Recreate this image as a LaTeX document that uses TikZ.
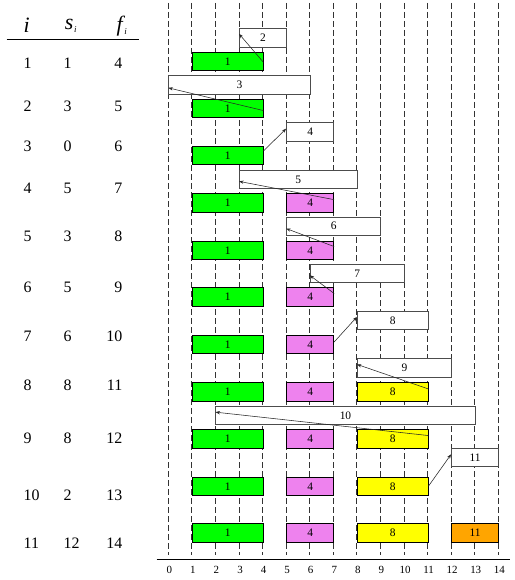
\documentclass[tikz,border=0pt]{standalone}
\usepackage{fontspec}
\setmainfont{Liberation Serif}
\usetikzlibrary{arrows.meta,calc}
\definecolor{cgreen}{RGB}{0,255,0}
\definecolor{cviolet}{RGB}{238,130,238}
\definecolor{cyellow}{RGB}{255,255,0}
\definecolor{corange}{RGB}{255,165,0}
\tikzset{
  gridline/.style={draw=black!80, line width=0.8bp, dash pattern=on 6bp off 3bp},
  ivbox/.style={draw=black, line width=0.8bp, minimum height=18.3bp, inner sep=0pt,
    anchor=north west, font=\fontsize{11.5}{11.5}\selectfont},
  waitbox/.style={ivbox, draw=black!70, fill=white},
  grnbox/.style={ivbox, fill=cgreen},
  viobox/.style={ivbox, fill=cviolet},
  yelbox/.style={ivbox, fill=cyellow},
  orabox/.style={ivbox, fill=corange},
  conn/.style={draw=black!85, line width=0.55bp, -{Stealth[length=4.5bp,width=3.2bp]}},
  tabtxt/.style={inner sep=0pt, font=\fontsize{16}{16}\selectfont},
  headtxt/.style={inner sep=0pt, font=\fontsize{22}{22}\selectfont\itshape},
  axtxt/.style={inner sep=0pt, font=\fontsize{11}{11}\selectfont},
}
\newcommand\ivb[6]{\node[#5, minimum width={(#3-#2)*23.5714bp}] (#1) at ({168.3+23.5714*#2},#4) {#6};}
\newcommand\tabrow[5]{%
  \node[tabtxt, anchor=west] (ti#1) at (23.5,#2) {#3};
  \node[tabtxt, anchor=west] (ts#1) at (63.5,#2) {#4};
  \node[tabtxt, anchor=east] (tf#1) at (122.5,#2) {#5};}
\begin{document}
\begin{tikzpicture}[x=1bp,y=-1bp]
\useasboundingbox[fill=white] (0,0) rectangle (515,580);
% vertical dashed grid lines
\foreach \t in {0,...,14}{
  \draw[gridline] ({168.3+23.5714*\t},3) -- ({168.3+23.5714*\t},555);
}
% axis
\draw[line width=0.9bp] (156.7,559) -- (510,559);
\foreach \t in {0,...,14}{
  \node[axtxt] (ax\t) at ({168.3+23.5714*\t+1},569.5) {\t};
}
% table
\node[headtxt] (hi) at (26.7,25) {i};
\node[headtxt] (hs) at (71,26) {s\textsubscript{\kern0.5pt\fontsize{9}{9}\selectfont i}};
\node[headtxt] (hf) at (122,26) {f\textsubscript{\kern1.5pt\fontsize{9}{9}\selectfont i}};
\draw[line width=0.9bp] (6.7,39.3) -- (139.3,39.3);
\tabrow{1}{63.3}{1}{1}{4}
\tabrow{2}{106.7}{2}{3}{5}
\tabrow{3}{146.7}{3}{0}{6}
\tabrow{4}{188.3}{4}{5}{7}
\tabrow{5}{236.7}{5}{3}{8}
\tabrow{6}{287.3}{6}{5}{9}
\tabrow{7}{336}{7}{6}{10}
\tabrow{8}{385.5}{8}{8}{11}
\tabrow{9}{438.3}{9}{8}{12}
\tabrow{10}{495}{10}{2}{13}
\tabrow{11}{543.3}{11}{12}{14}
% rows of selected intervals
\ivb{ga}{1}{4}{51.7}{grnbox}{1}
\ivb{gb}{1}{4}{99}{grnbox}{1}
\ivb{gc}{1}{4}{146}{grnbox}{1}
\ivb{gd}{1}{4}{193.3}{grnbox}{1}
\ivb{pd}{5}{7}{193.3}{viobox}{4}
\ivb{ge}{1}{4}{240.7}{grnbox}{1}
\ivb{pe}{5}{7}{240.7}{viobox}{4}
\ivb{gf}{1}{4}{287.3}{grnbox}{1}
\ivb{pf}{5}{7}{287.3}{viobox}{4}
\ivb{gg}{1}{4}{335}{grnbox}{1}
\ivb{pg}{5}{7}{335}{viobox}{4}
\ivb{gh}{1}{4}{382.3}{grnbox}{1}
\ivb{ph}{5}{7}{382.3}{viobox}{4}
\ivb{yh}{8}{11}{382.3}{yelbox}{8}
\ivb{gi}{1}{4}{429.3}{grnbox}{1}
\ivb{pi}{5}{7}{429.3}{viobox}{4}
\ivb{yi}{8}{11}{429.3}{yelbox}{8}
\ivb{gj}{1}{4}{476.7}{grnbox}{1}
\ivb{pj}{5}{7}{476.7}{viobox}{4}
\ivb{yj}{8}{11}{476.7}{yelbox}{8}
\ivb{gk}{1}{4}{523.3}{grnbox}{1}
\ivb{pk}{5}{7}{523.3}{viobox}{4}
\ivb{yk}{8}{11}{523.3}{yelbox}{8}
\ivb{ok}{12}{14}{523.3}{orabox}{11}
% candidate intervals
\ivb{b2}{3}{5}{28.3}{waitbox}{2}
\ivb{b3}{0}{6}{75.3}{waitbox}{3}
\ivb{b4}{5}{7}{122.3}{waitbox}{4}
\ivb{b5}{3}{8}{170}{waitbox}{5}
\ivb{b6}{5}{9}{216.7}{waitbox}{6}
\ivb{b7}{6}{10}{264}{waitbox}{7}
\ivb{b8}{8}{11}{311}{waitbox}{8}
\ivb{b9}{8}{12}{358.3}{waitbox}{9}
\ivb{b10}{2}{13}{405.7}{waitbox}{10}
\ivb{b11}{12}{14}{447.7}{waitbox}{11}
% comparison arrows
\draw[conn] ([yshift=-1bp]ga.east) -- ([yshift=4bp]b2.west);
\draw[conn] ([yshift=-2bp]gb.east) -- ([yshift=-3bp]b3.west);
\draw[conn] ([yshift=4.5bp]gc.east) -- ([yshift=3.2bp]b4.west);
\draw[conn] ([yshift=3.2bp]pd.east) -- ([yshift=-1.8bp]b5.west);
\draw[conn] ([yshift=3.7bp]pe.east) -- ([yshift=-2.3bp]b6.west);
\draw[conn] ([yshift=3.4bp]pf.east) -- ([yshift=-1.7bp]b7.west);
\draw[conn] ([yshift=2.5bp]pg.east) -- ([yshift=3.6bp]b8.west);
\draw[conn] ([yshift=2.9bp]yh.east) -- ([yshift=3.5bp]b9.west);
\draw[conn] ([yshift=3.3bp]yi.east) -- ([yshift=3.1bp]b10.west);
\draw[conn] (yj.east) -- ([yshift=3bp]b11.west);
\end{tikzpicture}
\end{document}
